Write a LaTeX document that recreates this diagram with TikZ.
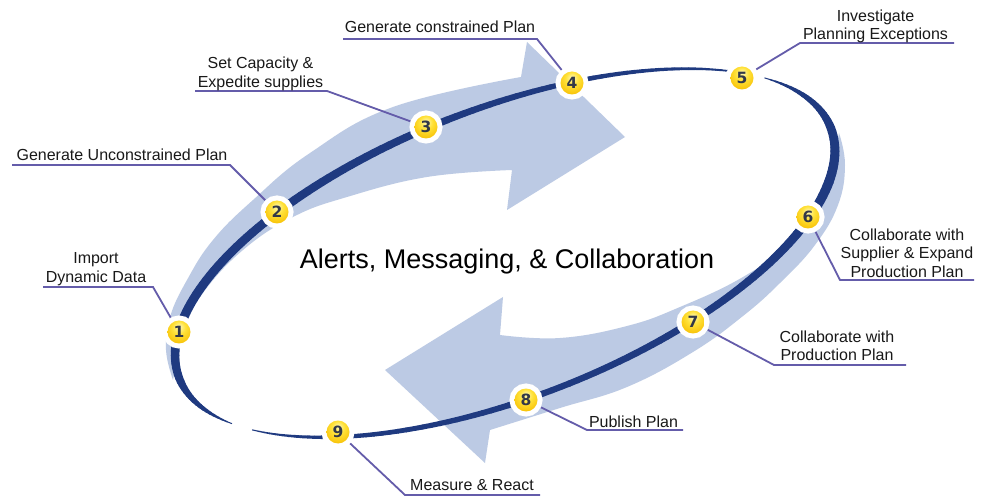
\documentclass[tikz,border=0pt]{standalone}
\usepackage{fontspec}
\setmainfont{Liberation Sans}
\newfontfamily\numfont{DejaVu Sans}
\definecolor{ringc}{RGB}{31,58,128}
\definecolor{bandc}{RGB}{188,202,228}
\definecolor{connc}{RGB}{100,92,170}
\definecolor{numc}{RGB}{50,56,72}
\definecolor{yhi}{RGB}{255,248,184}
\definecolor{ymid}{RGB}{255,226,58}
\definecolor{ylow}{RGB}{247,190,0}
\definecolor{yrim}{RGB}{232,160,0}
\pgfdeclareradialshading{yball}{\pgfpoint{0bp}{12bp}}{color(0bp)=(yhi); color(14bp)=(ymid); color(34bp)=(ylow); color(46bp)=(yrim); color(70bp)=(yrim)}
\begin{document}
\begin{tikzpicture}[x=1pt,y=-1pt,
  band/.style={fill=bandc},
  ringline/.style={draw=ringc, line cap=round},
  marker/.style={circle, minimum size=23pt, inner sep=0pt, shade, shading=yball,
     preaction={fill=white, draw=white, line width=10pt},
     font=\numfont\bfseries\fontsize{15.5}{15.5}\selectfont, text=numc},
  conn/.style={draw=connc, line width=1.8pt, shorten <=5pt},
  lab/.style={font=\fontsize{16}{18.8}\selectfont, align=center, inner sep=0pt, anchor=base, text=black!90},
  maintitle/.style={font=\fontsize{27}{30}\selectfont, inner sep=0pt, anchor=base, text=black}]
\useasboundingbox[fill=white] (0,0) rectangle (989,497);

% light blue arrows
\fill[band] plot[smooth, tension=0.7] coordinates {(173,380) (166,350) (170,317) (187,280) (213,240) (253,200) (310,153) (393,107) (521,77)}
  -- (527,42) -- (625,137) -- (507,210)
  -- plot[smooth, tension=0.7] coordinates {(512,170) (427,177) (347,197) (293,217) (243,250) (203,293) (184,330) (177,360) (173,380)} -- cycle;
\fill[band] plot[smooth, tension=0.7] coordinates {(839,133) (845,165) (838,205) (815,245) (780,283) (743,316) (693,352) (627,387) (560,408) (490,430)}
  -- (485,463) -- (385,370) -- (503,297)
  -- plot[smooth, tension=0.7] coordinates {(500,335) (560,338) (627,326) (680,307) (743,277) (795,240) (812,213) (829,182) (835,155) (839,133)} -- cycle;

% ring
\begin{scope}[shift={(505,253)}, rotate=21]
\foreach \ta/\tb/\wa/\wb in {29/15/0.8/5, 15/0/5/8.5, 0/-20/8.5/9.5, -20/-31/9.5/9, -31/-65/9/7, -65/-97/7/6, -97/-130/6/4, -130/-149/4/1,
   34/50/1.2/3, 50/70/3/5, 70/97/5/7.5, 97/125/7.5/8.5, 125/162/8.5/9, 162/180/9/8, 180/195/8/4, 195/205/4/0.8}{
  \pgfmathtruncatemacro\nn{max(1,round(abs(\tb-\ta)/1.5))}
  \foreach \k in {1,...,\nn}{
    \pgfmathsetmacro\tA{\ta+(\tb-\ta)*(\k-1)/\nn}
    \pgfmathsetmacro\tB{\ta+(\tb-\ta)*\k/\nn}
    \pgfmathsetmacro\ww{\wa+(\wb-\wa)*(\k-0.5)/\nn}
    \draw[ringline, line width=\ww pt] ({349*cos(\tA)},{-145*sin(\tA)}) -- ({349*cos(\tB)},{-145*sin(\tB)});
  }
}
\end{scope}

% markers
\node[marker] (m1) at (179,332) {1};
\node[marker] (m2) at (277,212) {2};
\node[marker] (m3) at (426,127) {3};
\node[marker] (m4) at (572,83) {4};
\node[marker] (m5) at (742,78) {5};
\node[marker] (m6) at (808,217) {6};
\node[marker] (m7) at (693,322) {7};
\node[marker] (m8) at (526,400) {8};
\node[marker] (m9) at (338,432) {9};

% underline coordinates
\coordinate (c1) at (153,287); \coordinate (e1) at (43,287);
\coordinate (c2) at (230,165); \coordinate (e2) at (12,165);
\coordinate (c3) at (327,91);  \coordinate (e3) at (195,91);
\coordinate (c4) at (537,39);  \coordinate (e4) at (343,39);
\coordinate (c5) at (800,43);  \coordinate (e5) at (954,43);
\coordinate (c6) at (840,280); \coordinate (e6) at (974,280);
\coordinate (c7) at (774,365); \coordinate (e7) at (906,365);
\coordinate (c8) at (587,430); \coordinate (e8) at (683,430);
\coordinate (c9) at (405,495); \coordinate (e9) at (540,495);

\foreach \i in {1,...,9}{\draw[conn] (m\i) -- (c\i) -- (e\i);}

% labels (base = baseline of the last line)
\node[lab] (l1) at (96,282.7) {Import\\Dynamic Data};
\node[lab] (l2) at (122,160.7) {Generate Unconstrained Plan};
\node[lab] (l3) at (260.5,87.3) {Set Capacity \&\\Expedite supplies};
\node[lab] (l4) at (440,33) {Generate constrained Plan};
\node[lab] (l5) at (875.5,40) {Investigate\\Planning Exceptions};
\node[lab] (l6) at (907,277.7) {Collaborate with\\Supplier \& Expand\\Production Plan};
\node[lab] (l7) at (837,361) {Collaborate with\\Production Plan};
\node[lab] (l8) at (633.5,427.5) {Publish Plan};
\node[lab] (l9) at (472,490) {Measure \& React};

\node[maintitle] (t) at (507,269) {Alerts, Messaging, \& Collaboration};
\end{tikzpicture}
\end{document}
